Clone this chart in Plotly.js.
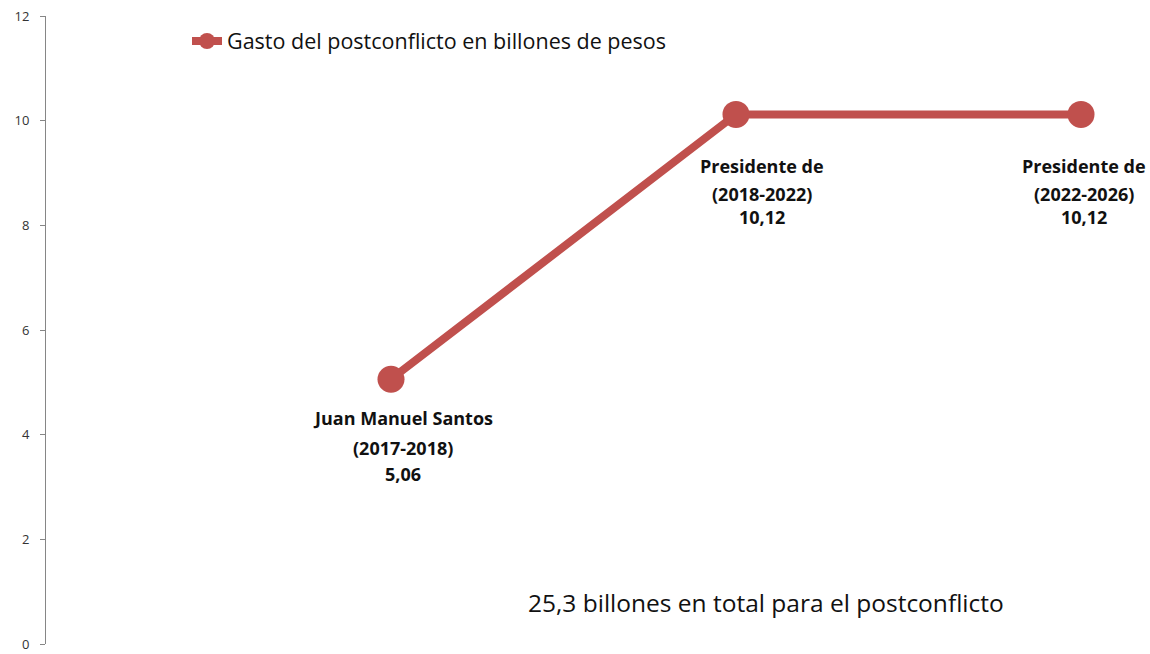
<!DOCTYPE html>
<html>
<head>
<meta charset="utf-8">
<script src="https://cdn.plot.ly/plotly-3.0.1.min.js"></script>
<style>html,body{margin:0;padding:0;background:#fff;}#chart{width:1150px;height:654px;}</style>
</head>
<body>
<div id="chart"></div>
<script>
const periods = ["Juan Manuel Santos", "Presidente de", "Presidente de"];
const years = ["(2017-2018)", "(2018-2022)", "(2022-2026)"];
const positions = [1, 2, 3];
const gasto = [5.06, 10.12, 10.12];
const gastoLabels = ["5,06", "10,12", "10,12"];
const seriesName = "Gasto del postconflicto en billones de pesos";
const totalText = "25,3 billones en total para el postconflicto";
const yTicks = [0, 2, 4, 6, 8, 10, 12];

const red = "#c0504d";
const font = "Open Sans, Noto Sans, sans-serif";

const trace = {
  x: positions, y: gasto, name: seriesName, type: "scatter", mode: "lines+markers",
  line: {color: red, width: 8},
  marker: {color: red, size: 27},
  cliponaxis: false, hoverinfo: "skip"
};

const xShifts = [12, 26, 3];
const yShiftSets = [[-39, -69, -95], [-52, -80, -103], [-52, -80, -103]];
const annotations = [];
positions.forEach((p, i) => {
  [periods[i], years[i], gastoLabels[i]].forEach((line, j) => {
    annotations.push({
      x: p, y: gasto[i], xref: "x", yref: "y",
      text: "<b>" + line + "</b>",
      showarrow: false, xanchor: "center", yanchor: "middle",
      xshift: xShifts[i], yshift: yShiftSets[i][j],
      font: {family: font, size: 18, color: "#111"}
    });
  });
});
annotations.push({
  x: (526 - 46) / 1104, y: (644 - 602) / 628, xref: "paper", yref: "paper", text: totalText, showarrow: false,
  font: {family: font, size: 24.5, color: "#111"}, xanchor: "left", yanchor: "middle"
});

const layout = {
  width: 1150, height: 654,
  margin: {l: 46, r: 0, t: 16, b: 10},
  paper_bgcolor: "#fff", plot_bgcolor: "#fff",
  showlegend: true,
  legend: {x: (187 - 46) / 1104, y: (644 - 41) / 628, xanchor: "left", yanchor: "middle",
           font: {family: font, size: 21.5, color: "#111"}, bgcolor: "rgba(0,0,0,0)", itemwidth: 30},
  xaxis: {range: [0, 3.2], visible: false, fixedrange: true},
  yaxis: {range: [0, 12], tickvals: yTicks, ticktext: yTicks.map(String), showgrid: false, zeroline: false,
          showline: true, linecolor: "#868686", linewidth: 1, ticks: "outside", ticklen: 5, tickcolor: "#868686",
          ticklabelstandoff: 8,
          tickfont: {family: font, size: 13, color: "#333"}, fixedrange: true},
  annotations: annotations
};

Plotly.newPlot("chart", [trace], layout, {displayModeBar: false, staticPlot: true});
</script>
</body>
</html>
